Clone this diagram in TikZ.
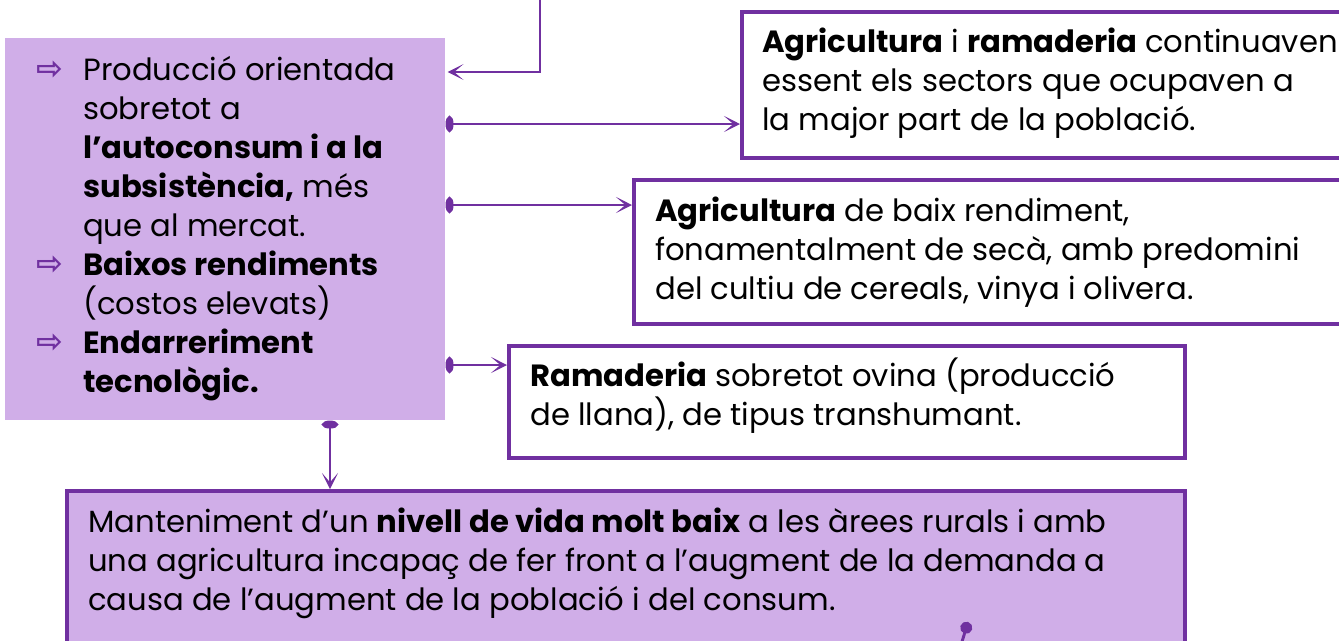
\documentclass[tikz,border=0pt]{standalone}
\usepackage{fontspec}
\setmainfont{Poppins}
\newfontfamily\symfont{DejaVu Sans}
\usetikzlibrary{arrows.meta}
\definecolor{lav}{RGB}{208,174,232}
\definecolor{pur}{RGB}{112,48,160}
\begin{document}
\begin{tikzpicture}[x=0.75pt,y=-0.75pt,
  txt/.style={anchor=base west, align=left, inner sep=0pt, font=\fontsize{23}{29.25}\selectfont},
  bul/.style={anchor=base, inner sep=0pt, text=pur, font=\symfont\bfseries\fontsize{24}{26}\selectfont},
  box/.style={draw=pur, line width=3pt, fill=white, anchor=north west, inner sep=0pt},
  lbox/.style={fill=lav, anchor=north west, inner sep=0pt},
  conn/.style={pur, line width=2.2pt},
  tip/.style={-{Stealth[length=12pt,width=12pt,inset=7pt]}},
  dot/.style={{Ellipse[length=6pt,width=12pt]}-{Stealth[length=12pt,width=12pt,inset=7pt]}}
]
\useasboundingbox (0,0) rectangle (1339,640);
% boxes
\node[lbox, minimum width=440*0.75pt, minimum height=382*0.75pt] (L) at (5,38) {};
\node[box, minimum width=605*0.75pt, minimum height=146.5*0.75pt] (A) at (740,9.5) {};
\node[box, minimum width=713*0.75pt, minimum height=144*0.75pt] (B) at (632,178) {};
\node[box, minimum width=676*0.75pt, minimum height=112*0.75pt] (C) at (507,344) {};
\node[box, fill=lav, minimum width=1118*0.75pt, minimum height=170*0.75pt] (D) at (65,489) {};
% left text (anchored at last baseline)
\node[txt] (Lt) at (83,392) {Producció orientada\\sobretot a\\\textbf{l’autoconsum i a la}\\\textbf{subsistència,} més\\que al mercat.\\\textbf{Baixos rendiments}\\(costos elevats)\\\textbf{Endarreriment}\\\textbf{tecnològic.}};
\node[bul] (b1) at (50,79) {⇨};
\node[bul] (b2) at (50,274) {⇨};
\node[bul] (b3) at (50,352) {⇨};
% other texts
\node[txt] (At) at (762,130) {\textbf{Agricultura} i \textbf{ramaderia} continuaven\\essent els sectors que ocupaven a\\la major part de la població.};
\node[txt] (Bt) at (655,299) {\textbf{Agricultura} de baix rendiment,\\fonamentalment de secà, amb predomini\\del cultiu de cereals, vinya i olivera.};
\node[txt] (Ct) at (530,425) {\textbf{Ramaderia} sobretot ovina (producció\\de llana), de tipus transhumant.};
\node[txt] (Dt) at (88,610) {Manteniment d’un \textbf{nivell de vida molt baix} a les àrees rurals i amb\\una agricultura incapaç de fer front a l’augment de la demanda a\\causa de l’augment de la població i del consum.};
% connector points
\coordinate (top) at (540,-5);
\coordinate (p0) at (L.north east |- 0,72);
\coordinate (p1) at (L.north east |- 0,124);
\coordinate (p2) at (L.north east |- 0,205);
\coordinate (p3) at (L.north east |- 0,365);
\coordinate (p4) at (L.south west -| 330,0);
\coordinate (q) at (968,622);
\coordinate (qe) at (961,645);
% connectors
\draw[conn, tip] (top) |- ([xshift=1.5pt]p0);
\draw[conn, dot] (p1) -- (p1 -| A.west);
\draw[conn, dot] (p2) -- (p2 -| B.west);
\draw[conn, dot] (p3) -- (p3 -| C.west);
\draw[conn, dot] (p4) -- (p4 |- D.north);
\draw[conn, {Ellipse[length=9pt,width=9pt]}-] (q) -- (qe);
\end{tikzpicture}
\end{document}
